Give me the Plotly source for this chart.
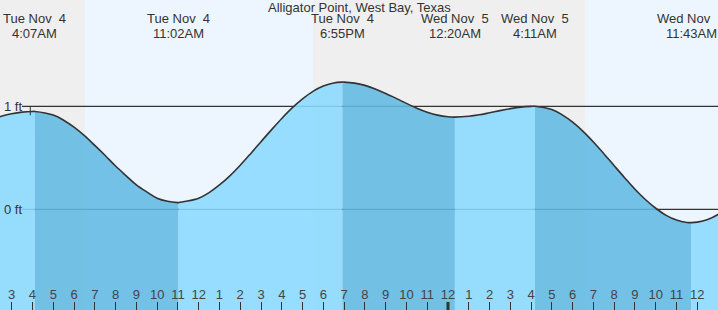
import plotly.graph_objects as go

# ---- data (hours from Tue Nov 4 00:00, heights in ft) ----
sample_hours = [2, 2.5, 3, 3.5, 4, 4.117, 5, 5.5, 6, 6.5, 7, 7.5, 8, 8.5, 9, 9.5, 10, 10.5, 11, 11.033,
                12, 12.5, 13, 13.5, 14, 14.5, 15, 15.5, 16, 16.5, 17, 17.5, 18, 18.5, 18.917,
                19, 19.5, 20, 20.5, 21, 21.5, 22, 22.5, 23, 23.5, 24, 24.333,
                25, 25.5, 26, 26.5, 27, 27.5, 28, 28.183,
                29, 29.5, 30, 30.5, 31, 31.5, 32, 32.5, 33, 33.5, 34, 34.5, 35, 35.5, 35.717,
                36, 36.5, 37, 37.5, 38]
sample_heights = [0.872, 0.903, 0.927, 0.943, 0.95, 0.95, 0.915, 0.865, 0.797, 0.715, 0.62, 0.522, 0.42, 0.327,
                  0.237, 0.169, 0.108, 0.078, 0.065, 0.065,
                  0.108, 0.162, 0.236, 0.325, 0.428, 0.54, 0.656, 0.771, 0.882, 0.984, 1.072, 1.145, 1.196,
                  1.227, 1.235,
                  1.235, 1.225, 1.203, 1.168, 1.125, 1.077, 1.028, 0.982, 0.943, 0.914, 0.898, 0.895,
                  0.903, 0.917, 0.937, 0.958, 0.977, 0.992, 0.999, 1.00,
                  0.968, 0.917, 0.846, 0.757, 0.653, 0.54, 0.423, 0.307, 0.195, 0.095, 0.01, -0.059,
                  -0.105, -0.128, -0.13,
                  -0.125, -0.099, -0.05, 0.022, 0.11]

event_hours = [4.117, 11.033, 18.917, 24.333, 28.183, 35.717]
event_kind = ["high", "low", "high", "low", "high", "low"]
event_day_labels = ["Tue Nov  4", "Tue Nov  4", "Tue Nov  4", "Wed Nov  5", "Wed Nov  5", "Wed Nov  5"]
event_time_labels = ["4:07AM", "11:02AM", "6:55PM", "12:20AM", "4:11AM", "11:43AM"]

# night / day bands (sunrise / sunset hours)
band_edges = [2, 6.528, 17.502, 30.594, 38]
band_kinds = ["night", "day", "night", "day"]

tick_hours = list(range(3, 38))
tick_labels = [str(h % 12 if h % 12 else 12) for h in tick_hours]

title = "Alligator Point, West Bay, Texas"
level_lines = [1, 0]
level_labels = ["1 ft", "0 ft"]

# ---- styles ----
FONT = "Liberation Sans, Arial, sans-serif"
TXT = "#333333"
LIGHT_FILL = "rgba(138,217,255,0.88)"
DARK_FILL = "rgba(98,186,228,0.88)"
BAND_COL = {"night": "#efefef", "day": "#edf6fe"}
X_RANGE = [2.437, 36.996]
Y_RANGE = [-0.978, 2.032]
FS = 13

fig = go.Figure()

# segments between extremes: falling tide dark, rising tide light
bounds = [sample_hours[0]] + event_hours + [sample_hours[-1]]
for i in range(len(bounds) - 1):
    a, b = bounds[i], bounds[i + 1]
    xs = [h for h in sample_hours if a <= h <= b]
    ys = [sample_heights[sample_hours.index(h)] for h in xs]
    falling = i > 0 and event_kind[i - 1] == "high"
    fig.add_trace(go.Scatter(x=[a, b], y=[-3, -3], mode="lines",
                             line=dict(width=0), hoverinfo="skip", showlegend=False))
    fig.add_trace(go.Scatter(x=xs, y=ys, mode="lines", fill="tonexty",
                             fillcolor=DARK_FILL if falling else LIGHT_FILL,
                             line=dict(width=0, shape="spline"),
                             hoverinfo="skip", showlegend=False))

# outline
fig.add_trace(go.Scatter(x=sample_hours, y=sample_heights, mode="lines",
                         line=dict(color=TXT, width=1.6, shape="spline"),
                         hoverinfo="skip", showlegend=False))

shapes = []
for i, k in enumerate(band_kinds):
    shapes.append(dict(type="rect", xref="x", yref="paper",
                       x0=band_edges[i], x1=band_edges[i + 1], y0=0, y1=1,
                       fillcolor=BAND_COL[k], line=dict(width=0), layer="below"))
for v in level_lines:
    shapes.append(dict(type="line", xref="paper", yref="y",
                       x0=22 / 718, x1=1, y0=v, y1=v,
                       line=dict(color=TXT, width=1.2), layer="below"))
# small marker at the 1 ft line
shapes.append(dict(type="line", xref="x", yref="y", x0=3.895, x1=3.895,
                   y0=1, y1=1 - 9 / 103, line=dict(color=TXT, width=1), layer="above"))
# midnight tick (thicker)
shapes.append(dict(type="line", xref="x", yref="paper", x0=24, x1=24,
                   y0=0, y1=8 / 310, line=dict(color=TXT, width=3), layer="above"))

annotations = [dict(text=title, xref="paper", yref="paper", x=0.5, y=1 - 7.5 / 310,
                    xanchor="center", yanchor="middle", showarrow=False,
                    font=dict(family=FONT, size=FS, color=TXT))]
for h, d, t in zip(event_hours, event_day_labels, event_time_labels):
    annotations.append(dict(text=d.replace("  ", "&nbsp; "), xref="x", yref="paper", x=h,
                            y=1 - 19 / 310, xanchor="center", yanchor="middle",
                            showarrow=False, font=dict(family=FONT, size=FS, color=TXT)))
    annotations.append(dict(text=t, xref="x", yref="paper", x=h,
                            y=1 - 33.5 / 310, xanchor="center", yanchor="middle",
                            showarrow=False, font=dict(family=FONT, size=FS, color=TXT)))
for v, lab in zip(level_lines, level_labels):
    annotations.append(dict(text=lab, xref="paper", yref="y", x=2 / 718, y=v,
                            xanchor="left", yanchor="middle", showarrow=False,
                            font=dict(family=FONT, size=FS, color=TXT)))

fig.update_layout(
    width=718, height=310, margin=dict(l=0, r=0, t=0, b=0),
    paper_bgcolor="white", plot_bgcolor="white",
    shapes=shapes, annotations=annotations, showlegend=False,
    xaxis=dict(range=X_RANGE, tickvals=tick_hours, ticktext=tick_labels,
               ticks="inside", ticklen=8, tickwidth=1, tickcolor=TXT,
               ticklabelposition="inside", showgrid=False, zeroline=False,
               showline=False, fixedrange=True,
               tickfont=dict(family=FONT, size=FS, color="#444444")),
    yaxis=dict(range=Y_RANGE, visible=False, fixedrange=True),
)

fig.write_html("out.html", config={"displayModeBar": False})
